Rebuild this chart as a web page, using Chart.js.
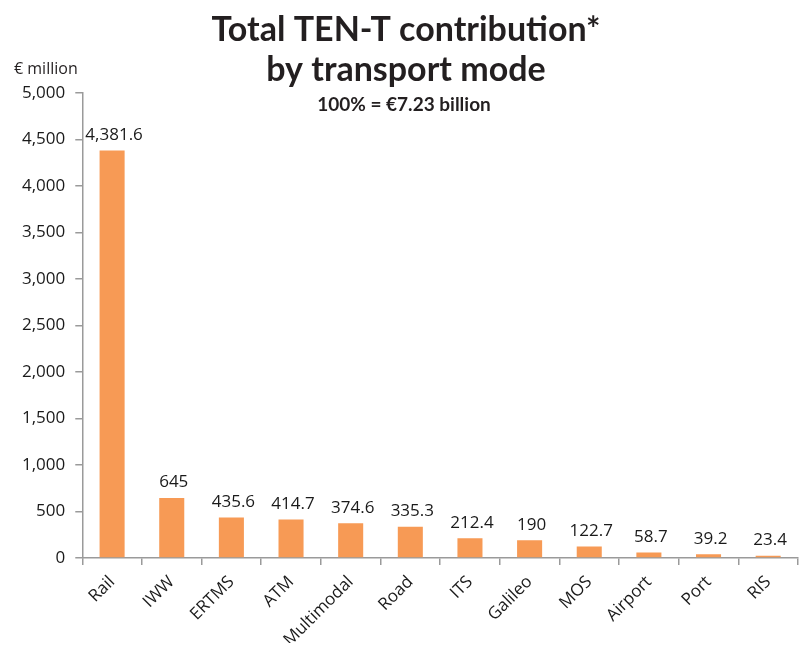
<!DOCTYPE html>
<html>
<head>
<meta charset="utf-8">
<script src="https://cdn.jsdelivr.net/npm/chart.js@4.4.0/dist/chart.umd.min.js"></script>
<style>
  html, body { margin: 0; padding: 0; background: #fff; }
  #wrap { width: 799px; height: 645px; }
</style>
</head>
<body>
<div id="wrap"><canvas id="modeChart" width="799" height="645"></canvas></div>
<script>
var modes = ['Rail', 'IWW', 'ERTMS', 'ATM', 'Multimodal', 'Road', 'ITS', 'Galileo', 'MOS', 'Airport', 'Port', 'RIS'];
var contribution = [4381.6, 645, 435.6, 414.7, 374.6, 335.3, 212.4, 190, 122.7, 58.7, 39.2, 23.4];
var valueLabels = ['4,381.6', '645', '435.6', '414.7', '374.6', '335.3', '212.4', '190', '122.7', '58.7', '39.2', '23.4'];

var axisGrey = '#9a9a9a';
var textFont = '"Open Sans", sans-serif';

// labels above bars + titles
var textPlugin = {
  id: 'textPlugin',
  afterDatasetsDraw: function(chart) {
    var ctx = chart.ctx;
    var meta = chart.getDatasetMeta(0);
    ctx.save();
    ctx.fillStyle = '#1a1a1a';
    ctx.font = '17px ' + textFont;
    ctx.textAlign = 'center';
    ctx.textBaseline = 'bottom';
    meta.data.forEach(function(bar, i) {
      ctx.fillText(valueLabels[i], bar.x + 2, bar.y - 7);
    });

    // title block
    ctx.fillStyle = '#231f20';
    ctx.font = 'bold 34px Lato, sans-serif';
    ctx.textBaseline = 'alphabetic';
    ctx.fillText('Total TEN-T contribution*', 406, 41);
    ctx.fillText('by transport mode', 406, 81);
    ctx.font = 'bold 19px Lato, sans-serif';
    ctx.fillText('100% = \u20ac7.23 billion', 404, 111);

    ctx.textAlign = 'left';
    ctx.font = '16px ' + textFont;
    ctx.fillText('\u20ac million', 14, 74);
    ctx.restore();
  }
};

var ctx = document.getElementById('modeChart').getContext('2d');
var chart = new Chart(ctx, {
    type: 'bar',
    data: {
        labels: modes,
        datasets: [{
            label: 'Total TEN-T contribution',
            backgroundColor: '#f79a55',
            borderWidth: 0,
            categoryPercentage: 1,
            barPercentage: 0.42,
            data: contribution
        }]
    },
    options: {
      responsive: false,
      animation: false,
      layout: {
        padding: { top: 93, left: 12, right: 1, bottom: 2 }
      },
      plugins: {
        legend: { display: false },
        tooltip: { enabled: false }
      },
      scales: {
        x: {
          offset: true,
          afterFit: function(scale) { scale.height = 85; },
          grid: { offset: true, drawOnChartArea: false, drawTicks: true, tickLength: 7, color: axisGrey, lineWidth: 1.5 },
          border: { color: axisGrey, width: 1.5 },
          ticks: {
            color: '#1a1a1a',
            font: { family: textFont, size: 17 },
            autoSkip: false,
            minRotation: 45,
            maxRotation: 45,
            padding: 7
          }
        },
        y: {
          min: 0,
          max: 5000,
          grid: { drawOnChartArea: false, drawTicks: true, tickLength: 7, color: axisGrey, lineWidth: 1.5 },
          border: { color: axisGrey, width: 1.5 },
          ticks: {
            stepSize: 500,
            color: '#1a1a1a',
            font: { family: textFont, size: 17 },
            padding: 10,
            callback: function(v) { return v.toLocaleString('en-US'); }
          }
        }
      }
    },
    plugins: [textPlugin]
});
</script>
</body>
</html>
